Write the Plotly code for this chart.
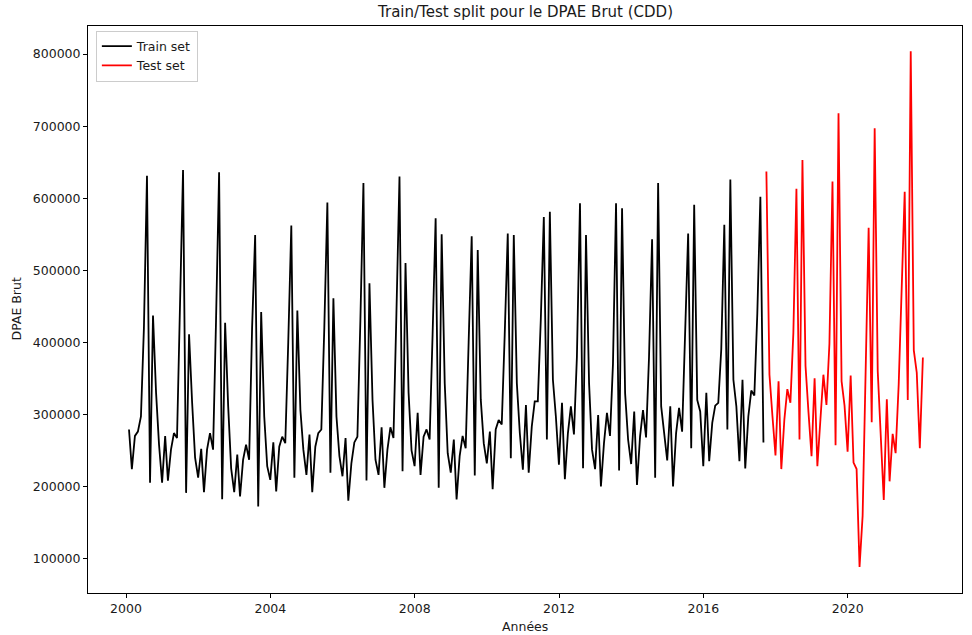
import pandas as pd
import plotly.graph_objects as go

# Monthly values (month-end dates), Jan 2000 - Aug 2017 : train set
train_start = "2000-01-31"
train_values = [
    279000, 224000, 270000, 276000, 297000, 420000, 631000, 205000, 437000, 330000, 258000, 205000,
    270000, 208000, 251000, 274000, 267000, 440000, 639000, 191000, 411000, 316000, 240000, 212000,
    252000, 192000, 251000, 274000, 251000, 430000, 636000, 182000, 427000, 311000, 225000, 192000,
    244000, 186000, 237000, 258000, 237000, 420000, 549000, 172000, 442000, 297000, 228000, 209000,
    261000, 193000, 255000, 269000, 260000, 400000, 562000, 212000, 444000, 306000, 251000, 216000,
    272000, 192000, 255000, 274000, 279000, 420000, 594000, 219000, 461000, 297000, 242000, 214000,
    267000, 180000, 232000, 261000, 269000, 430000, 621000, 208000, 482000, 320000, 237000, 216000,
    282000, 198000, 251000, 282000, 267000, 440000, 630000, 221000, 510000, 330000, 250000, 228000,
    302000, 216000, 269000, 279000, 265000, 410000, 572000, 198000, 550000, 343000, 246000, 219000,
    265000, 182000, 242000, 270000, 253000, 400000, 547000, 215000, 528000, 320000, 260000, 232000,
    276000, 196000, 279000, 292000, 286000, 410000, 551000, 239000, 549000, 343000, 274000, 223000,
    313000, 219000, 283000, 318000, 318000, 430000, 574000, 265000, 581000, 348000, 297000, 230000,
    316000, 210000, 274000, 311000, 272000, 380000, 593000, 225000, 549000, 343000, 251000, 224000,
    299000, 200000, 260000, 302000, 270000, 370000, 593000, 222000, 586000, 329000, 265000, 231000,
    304000, 202000, 269000, 306000, 268000, 380000, 543000, 212000, 621000, 311000, 269000, 236000,
    311000, 200000, 274000, 309000, 276000, 420000, 551000, 253000, 591000, 320000, 304000, 228000,
    330000, 235000, 288000, 312000, 316000, 390000, 563000, 279000, 626000, 348000, 311000, 235000,
    348000, 225000, 297000, 333000, 326000, 440000, 602000, 261000,
]

# Sep 2017 - Jan 2022 : test set
test_start = "2017-09-30"
test_values = [
    637000, 355000, 298000, 243000,
    346000, 224000, 293000, 335000, 316000, 413000, 613000, 265000, 653000, 367000, 303000, 242000,
    350000, 228000, 293000, 355000, 313000, 398000, 623000, 257000, 718000, 346000, 312000, 248000,
    354000, 233000, 224000, 88000, 159000, 360000, 559000, 289000, 697000, 360000, 269000, 181000,
    321000, 207000, 273000, 246000, 341000, 475000, 609000, 320000, 804000, 389000, 358000, 253000,
    379000,
]

x_ticks = ["2000-01-01", "2004-01-01", "2008-01-01", "2012-01-01", "2016-01-01", "2020-01-01"]
x_tick_labels = ["2000", "2004", "2008", "2012", "2016", "2020"]
y_ticks = [100000, 200000, 300000, 400000, 500000, 600000, 700000, 800000]
y_tick_labels = [str(v) for v in y_ticks]

train_dates = pd.date_range(train_start, periods=len(train_values), freq=pd.offsets.MonthEnd())
test_dates = pd.date_range(test_start, periods=len(test_values), freq=pd.offsets.MonthEnd())

FONT = "DejaVu Sans"
TXT = "#1a1a1a"

fig = go.Figure()
fig.add_trace(go.Scatter(x=train_dates, y=train_values, mode="lines", name="Train set",
                         line=dict(color="black", width=1.8)))
fig.add_trace(go.Scatter(x=test_dates, y=test_values, mode="lines", name="Test set",
                         line=dict(color="red", width=1.8)))

axis_common = dict(showline=True, mirror=True, linecolor="black", linewidth=1,
                   ticks="outside", ticklen=4, tickcolor="black", showgrid=False,
                   zeroline=False, automargin=False,
                   tickfont=dict(family=FONT, size=12.5, color=TXT))

fig.update_layout(
    width=972, height=635,
    margin=dict(l=88, r=10, t=26, b=42, autoexpand=False),
    paper_bgcolor="white", plot_bgcolor="white",
    font=dict(family=FONT, size=12.5, color=TXT),
    xaxis=dict(type="date", range=["1998-12-12", "2023-03-03"],
               tickvals=x_ticks, ticktext=x_tick_labels, **axis_common),
    yaxis=dict(range=[52000, 839000], tickvals=y_ticks, ticktext=y_tick_labels, **axis_common),
    legend=dict(x=0.009, y=0.992, xanchor="left", yanchor="top",
                bgcolor="rgba(255,255,255,0.8)", bordercolor="#cccccc", borderwidth=1,
                font=dict(family=FONT, size=12.5, color=TXT), tracegroupgap=0),
    showlegend=True,
)

fig.add_annotation(text="Train/Test split pour le DPAE Brut (CDD)", xref="paper", yref="paper",
                   x=0.5, y=1 + (26 - 12) / 567, xanchor="center", yanchor="middle",
                   showarrow=False, font=dict(family=FONT, size=15, color=TXT))
fig.add_annotation(text="Années", xref="paper", yref="paper", x=0.5, y=-(626 - 593) / 567,
                   xanchor="center", yanchor="middle", showarrow=False,
                   font=dict(family=FONT, size=12.5, color=TXT))
fig.add_annotation(text="DPAE Brut", xref="paper", yref="paper", x=-(88 - 16) / 874, y=0.5,
                   xanchor="center", yanchor="middle", showarrow=False, textangle=-90,
                   font=dict(family=FONT, size=12.5, color=TXT))

fig.write_html("out.html", config={"displayModeBar": False},
               post_script="document.body.style.margin='0';document.body.style.padding='0';"
                           "document.body.style.overflow='hidden';")
